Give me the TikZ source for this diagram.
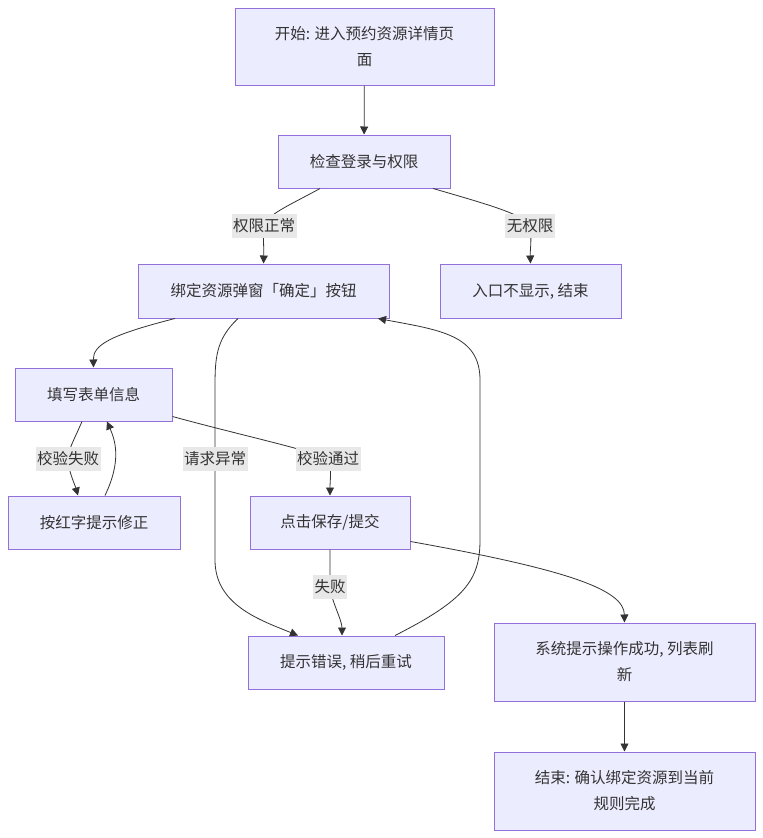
\documentclass[tikz,border=0pt]{standalone}
\usepackage{fontspec}
\setmainfont{Noto Sans CJK SC}
\usetikzlibrary{arrows.meta}
\definecolor{boxfill}{HTML}{ECECFF}
\definecolor{boxline}{HTML}{9370DB}
\definecolor{ink}{HTML}{333333}
\definecolor{labelbg}{HTML}{E8E8E8}
\tikzset{
  stepbox/.style={
    shape = rectangle,
    draw = boxline,
    fill = boxfill,
    line width = 1pt,
    text = ink,
    align = center,
    inner sep = 0pt
  },
  flow/.style={
    draw = ink,
    line width = 0.8pt,
    -{Triangle[length=8pt,width=8pt]}
  },
  edgelabel/.style={
    fill = labelbg,
    text = ink,
    inner xsep = 1.5pt,
    inner ysep = 0pt,
    minimum height = 24pt
  },
  every picture/.style = {
    font=\fontsize{15.5}{26}\selectfont
  }
}
\begin{document}
\begin{tikzpicture}[x=1pt,y=-1pt]
  \fill[white] (0,0) rectangle (763,838);
  \useasboundingbox (0,0) rectangle (763,838);
  % boxes
  \node[stepbox,minimum width=259pt,minimum height=77pt] (start) at (364.5,46.5) {开始: 进入预约资源详情页\\面};
  \node[stepbox,minimum width=172pt,minimum height=53pt] (check) at (364,161.5) {检查登录与权限};
  \node[stepbox,minimum width=251pt,minimum height=54pt] (bind) at (263.5,291) {绑定资源弹窗「确定」按钮};
  \node[stepbox,minimum width=181pt,minimum height=54pt] (noentry) at (530.5,291) {入口不显示, 结束};
  \node[stepbox,minimum width=157pt,minimum height=53pt] (fill) at (93.5,394.5) {填写表单信息};
  \node[stepbox,minimum width=172pt,minimum height=53pt] (fix) at (94,522.5) {按红字提示修正};
  \node[stepbox,minimum width=160pt,minimum height=53pt] (save) at (330,522.5) {点击保存/提交};
  \node[stepbox,minimum width=196pt,minimum height=53pt] (err) at (346,662.5) {提示错误, 稍后重试};
  \node[stepbox,minimum width=261pt,minimum height=78pt] (succ) at (624.5,662) {系统提示操作成功, 列表刷\\新};
  \node[stepbox,minimum width=261pt,minimum height=78pt] (end) at (624.5,791) {结束: 确认绑定资源到当前\\规则完成};
  % connectors
  \draw[flow] (start) -- (check);
  \draw[flow] ([xshift=-44pt]check.south) .. controls (290,205) and (266,215) .. (264,226)
    node[edgelabel] {权限正常} .. controls (263,240) and (264,250) .. (bind.north);
  \draw[flow] ([xshift=69pt]check.south) .. controls (490,205) and (525,215) .. (530,226)
    node[edgelabel] {无权限} .. controls (532,240) and (530,250) .. (noentry.north);
  \draw[flow] ([xshift=-88.5pt]bind.south) .. controls (110,335) and (93,345) .. (fill.north);
  \draw[flow] ([xshift=-25.5pt]bind.south) .. controls (215,340) and (215,360) .. (215,390)
    -- (215,459) node[edgelabel] {请求异常} -- (215,560) .. controls (215,605) and (260,620) .. ([xshift=-48pt]err.north);
  \draw[flow] ([xshift=-11.5pt]fill.south) .. controls (74,440) and (68,450) .. (68,459)
    node[edgelabel] {校验失败} .. controls (68,470) and (75,485) .. ([xshift=-16pt]fix.north);
  \draw[flow] ([xshift=11pt]fix.north) .. controls (122,460) and (115,440) .. ([xshift=13.5pt]fill.south);
  \draw[flow] ([yshift=5pt]fill.south east) .. controls (240,435) and (310,450) .. (328,459)
    node[edgelabel] {校验通过} .. controls (332,470) and (330,480) .. (save.north);
  \draw[flow] (save.south) .. controls (330,570) and (330,580) .. (330,587)
    node[edgelabel] {失败} .. controls (331,600) and (342,620) .. ([xshift=-4pt]err.north);
  \draw[flow] ([xshift=49pt]err.north) .. controls (465,600) and (480,580) .. (480,540)
    -- (480,380) .. controls (480,335) and (440,330) .. ([xshift=114.5pt]bind.south);
  \draw[flow] ([yshift=8pt]save.south east) .. controls (570,570) and (624,590) .. (succ.north);
  \draw[flow] (succ) -- (end);
\end{tikzpicture}
\end{document}
